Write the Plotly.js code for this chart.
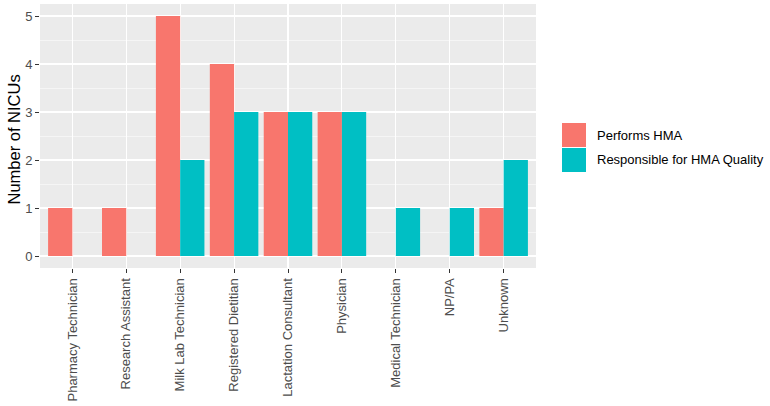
<!DOCTYPE html>
<html>
<head>
<meta charset="utf-8">
<script src="https://cdn.plot.ly/plotly-3.0.1.min.js"></script>
<style>html,body{margin:0;padding:0;background:#fff;}#chart{width:770px;height:406px;}</style>
</head>
<body>
<div id="chart"></div>
<script>
const categories = ["Pharmacy Technician","Research Assistant","Milk Lab Technician","Registered Dietitian","Lactation Consultant","Physician","Medical Technician","NP/PA","Unknown"];
const performsHMA = [1, 1, 5, 4, 3, 3, null, null, 1];
const responsibleHMA = [null, null, 2, 3, 3, 3, 1, 1, 2];
const seriesNames = ["Performs HMA", "Responsible for HMA Quality"];
const seriesColors = ["#F8766D", "#00BFC4"];
const yTicks = [0, 1, 2, 3, 4, 5];
const yMinor = [0.5, 1.5, 2.5, 3.5, 4.5];
const yTitle = "Number of NICUs";

const W = 770, H = 406;
const L = 40, R = 536, T = 4, B = 268;
const pw = R - L, ph = B - T;
const px = x => (x - L) / pw;
const py = y => (B - y) / ph;
const FONT = "Liberation Sans, Arial, sans-serif";

const traces = [
  {type:"bar", x:categories, y:performsHMA, name:seriesNames[0], marker:{color:seriesColors[0]}, showlegend:false},
  {type:"bar", x:categories, y:responsibleHMA, name:seriesNames[1], marker:{color:seriesColors[1]}, showlegend:false}
];

const shapes = [
  {type:"rect", xref:"paper", yref:"paper", x0:px(562), x1:px(586), y0:py(147), y1:py(123), fillcolor:seriesColors[0], line:{width:0}},
  {type:"rect", xref:"paper", yref:"paper", x0:px(562), x1:px(586), y0:py(172), y1:py(148), fillcolor:seriesColors[1], line:{width:0}}
];
const annotations = [
  {xref:"paper", yref:"paper", x:px(595), y:py(135), text:seriesNames[0], showarrow:false, xanchor:"left", yanchor:"middle", font:{family:FONT, size:13, color:"#000000"}},
  {xref:"paper", yref:"paper", x:px(595), y:py(160), text:seriesNames[1], showarrow:false, xanchor:"left", yanchor:"middle", font:{family:FONT, size:13, color:"#000000"}},
  {xref:"paper", yref:"paper", x:px(13.5), y:py(140), text:yTitle, textangle:-90, showarrow:false, xanchor:"center", yanchor:"middle", font:{family:FONT, size:16.5, color:"#000000"}}
];

const layout = {
  width:W, height:H,
  margin:{l:L, r:W-R, t:T, b:H-B, pad:0},
  paper_bgcolor:"#FFFFFF",
  plot_bgcolor:"#EBEBEB",
  barmode:"group",
  bargap:0.1,
  bargroupgap:0,
  font:{family:FONT, size:13, color:"#4D4D4D"},
  xaxis:{
    type:"category",
    categoryorder:"array", categoryarray:categories,
    range:[-0.6, categories.length - 0.4],
    showgrid:true, gridcolor:"#FFFFFF", gridwidth:1.1,
    zeroline:false, showline:false,
    ticks:"outside", ticklen:4, tickwidth:1, tickcolor:"#333333",
    tickangle:-90,
    tickfont:{family:FONT, size:13, color:"#4D4D4D"},
    automargin:false,
    fixedrange:true
  },
  yaxis:{
    range:[-0.25, 5.25],
    tickvals:yTicks,
    showgrid:true, gridcolor:"#FFFFFF", gridwidth:1.1,
    minor:{tickvals:yMinor, showgrid:true, gridcolor:"#FFFFFF", gridwidth:0.5, ticks:""},
    zeroline:false, showline:false,
    ticks:"outside", ticklen:4, tickwidth:1, tickcolor:"#333333",
    tickfont:{family:FONT, size:13, color:"#4D4D4D"},
    automargin:false,
    fixedrange:true
  },
  shapes:shapes,
  annotations:annotations,
  showlegend:false
};

Plotly.newPlot("chart", traces, layout, {displayModeBar:false, staticPlot:true});
</script>
</body>
</html>
